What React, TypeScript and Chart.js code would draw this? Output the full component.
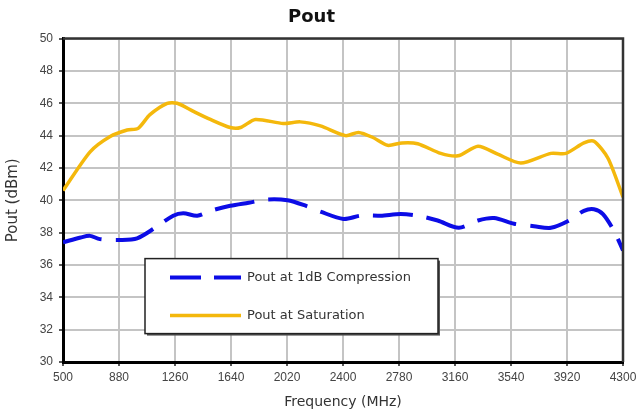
import React, { useEffect, useRef } from "react";
import { Chart, registerables } from "chart.js";

Chart.register(...registerables);

const TITLE = "Pout";
const X_TITLE = "Frequency (MHz)";
const Y_TITLE = "Pout (dBm)";
const X_MIN = 500;
const X_MAX = 4300;
const X_STEP = 380;
const Y_MIN = 30;
const Y_MAX = 50;
const Y_STEP = 2;

const SAT_LABEL = "Pout at Saturation";
const satFreq = [500, 684, 820, 935, 1010, 1090, 1207, 1275, 1385, 1500, 1635, 1705, 1805, 1995, 2110, 2247, 2417, 2505, 2600, 2703, 2800, 2907, 3063, 3180, 3316, 3450, 3607, 3811, 3913, 4035, 4103, 4198, 4300];
const satPout = [40.6, 43.0, 43.95, 44.35, 44.45, 45.3, 46.0, 46.0, 45.5, 45.0, 44.5, 44.5, 45.0, 44.75, 44.85, 44.6, 44.0, 44.2, 43.9, 43.4, 43.55, 43.5, 42.9, 42.75, 43.35, 42.85, 42.3, 42.9, 42.9, 43.55, 43.65, 42.6, 40.2];

const COMP_LABEL = "Pout at 1dB Compression";
const compFreq = [500, 620, 684, 750, 887, 1003, 1125, 1248, 1316, 1411, 1500, 1635, 1760, 1887, 2023, 2150, 2247, 2403, 2520, 2655, 2791, 2907, 3042, 3186, 3316, 3425, 3561, 3696, 3811, 3935, 4035, 4103, 4164, 4239, 4300];
const compPout = [37.4, 37.7, 37.8, 37.6, 37.55, 37.65, 38.3, 39.05, 39.2, 39.05, 39.35, 39.66, 39.85, 40.05, 40.0, 39.65, 39.3, 38.85, 39.05, 39.05, 39.15, 39.05, 38.75, 38.3, 38.75, 38.9, 38.55, 38.4, 38.3, 38.75, 39.35, 39.45, 39.15, 38.1, 36.9];

const GOLD = "#F4B80C";
const BLUE = "#0C0CE6";
const FONT = "'Liberation Sans', Arial, sans-serif";
const WIDE = "'DejaVu Sans', sans-serif";

const framePlugin = {
  id: "frameAndLegend",
  afterDraw(chart: any) {
    const { ctx, chartArea } = chart;
    const { left, right, top, bottom } = chartArea;
    ctx.save();
    ctx.strokeStyle = "#333";
    ctx.lineWidth = 2.5;
    ctx.beginPath();
    ctx.moveTo(left, top);
    ctx.lineTo(right, top);
    ctx.lineTo(right, bottom);
    ctx.stroke();

    const bx = left + 82;
    const by = top + 220;
    const bw = 293;
    const bh = 75;
    ctx.fillStyle = "#555";
    ctx.fillRect(bx + 2, by + 2, bw, bh);
    ctx.fillStyle = "#fff";
    ctx.fillRect(bx, by, bw, bh);
    ctx.strokeStyle = "#222";
    ctx.lineWidth = 1.5;
    ctx.strokeRect(bx, by, bw, bh);

    const ds = chart.data.datasets;
    const rows = [
      { d: ds[0], y: by + 19 },
      { d: ds[1], y: by + 57 },
    ];
    rows.forEach((r) => {
      ctx.save();
      ctx.strokeStyle = r.d.borderColor;
      ctx.lineWidth = r.d.legendWidth;
      ctx.setLineDash(r.d.legendDash || []);
      ctx.beginPath();
      ctx.moveTo(bx + 25, r.y);
      ctx.lineTo(bx + 96, r.y);
      ctx.stroke();
      ctx.restore();
      ctx.fillStyle = "#333";
      ctx.font = "13px " + WIDE;
      ctx.textBaseline = "middle";
      ctx.textAlign = "left";
      ctx.fillText(r.d.label, bx + 102, r.y);
    });
    ctx.restore();
  },
};

export default function App() {
  const ref = useRef<HTMLCanvasElement | null>(null);
  useEffect(() => {
    if (!ref.current) return;
    const chart = new Chart(ref.current, {
      type: "line",
      data: {
        datasets: [
          {
            label: COMP_LABEL,
            data: compFreq.map((f, i) => ({ x: f, y: compPout[i] })),
            borderColor: BLUE,
            borderWidth: 4,
            borderDash: [40, 14],
            pointRadius: 0,
            tension: 0.3,
            fill: false,
            legendWidth: 4,
            legendDash: [31, 13],
          } as any,
          {
            label: SAT_LABEL,
            data: satFreq.map((f, i) => ({ x: f, y: satPout[i] })),
            borderColor: GOLD,
            borderWidth: 3.5,
            pointRadius: 0,
            tension: 0.25,
            fill: false,
            legendWidth: 3.5,
          } as any,
        ],
      },
      options: {
        animation: false,
        responsive: false,
        maintainAspectRatio: false,
        layout: { padding: { top: 0, left: 0, right: 18, bottom: 6 } },
        plugins: {
          legend: { display: false },
          tooltip: { enabled: false },
          title: {
            display: true,
            text: TITLE,
            color: "#111",
            font: { family: WIDE, size: 18, weight: "bold" },
            padding: { top: 7, bottom: 10 },
          },
        },
        scales: {
          x: {
            type: "linear",
            min: X_MIN,
            max: X_MAX,
            afterFit: (s: any) => {
              s.height = 49;
            },
            ticks: {
              stepSize: X_STEP,
              color: "#444",
              padding: 4,
              maxRotation: 0,
              font: { family: FONT, size: 12 },
              callback: (v: any) => String(v),
            },
            grid: {
              color: "#C4C4C4",
              lineWidth: 2,
              tickLength: 4,
              tickColor: "#222",
              tickWidth: 1.5,
            },
            border: { display: true, color: "#000", width: 3 },
            title: {
              display: true,
              text: X_TITLE,
              color: "#333",
              font: { family: WIDE, size: 14 },
              padding: { top: 3, bottom: 0 },
            },
          },
          y: {
            min: Y_MIN,
            max: Y_MAX,
            afterFit: (s: any) => {
              s.width = 63;
            },
            ticks: {
              stepSize: Y_STEP,
              color: "#444",
              padding: 6,
              font: { family: FONT, size: 12 },
              callback: (v: any) => String(v),
            },
            grid: {
              color: "#C4C4C4",
              lineWidth: 2,
              tickLength: 4,
              tickColor: "#222",
              tickWidth: 1.5,
            },
            border: { display: true, color: "#000", width: 3 },
            title: {
              display: true,
              text: Y_TITLE,
              color: "#333",
              font: { family: WIDE, size: 15 },
              padding: { top: 4, bottom: 0 },
            },
          },
        },
      },
      plugins: [framePlugin],
    });
    return () => chart.destroy();
  }, []);
  return (
    <div style={{ position: "fixed", left: 0, top: 0, width: 641, height: 417, background: "#fff" }}>
      <canvas ref={ref} width={641} height={417} style={{ display: "block" }} />
    </div>
  );
}
